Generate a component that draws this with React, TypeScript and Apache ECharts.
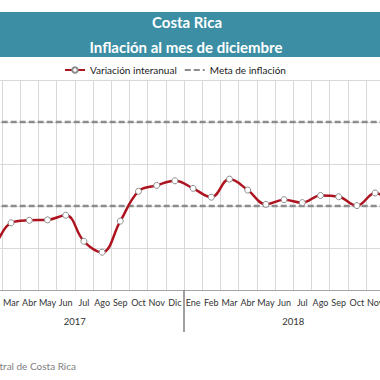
import React, { useEffect, useRef } from "react";
import * as echarts from "echarts";

const months = [
  "Ene", "Feb", "Mar", "Abr", "May", "Jun", "Jul", "Ago", "Sep", "Oct", "Nov", "Dic",
  "Ene", "Feb", "Mar", "Abr", "May", "Jun", "Jul", "Ago", "Sep", "Oct", "Nov", "Dic",
];
const years = ["2017", "2018"];
const variacionInteranual = [
  0.85, 1.05, 1.6, 1.66, 1.67, 1.78, 1.16, 0.9, 1.64, 2.35, 2.49, 2.6,
  2.42, 2.21, 2.64, 2.38, 2.04, 2.15, 2.08, 2.25, 2.22, 2.01, 2.31, 2.03,
];
const metaSuperior = [4, 4, 4, 4, 4, 4, 4, 4, 4, 4, 4, 4, 4, 4, 4, 4, 4, 4, 4, 4, 4, 4, 4, 4];
const metaInferior = [2, 2, 2, 2, 2, 2, 2, 2, 2, 2, 2, 2, 2, 2, 2, 2, 2, 2, 2, 2, 2, 2, 2, 2];

const FONT = "Lato, 'Open Sans', sans-serif";
const SHIFT = 100;

export default function App() {
  const ref = useRef<HTMLDivElement>(null);
  useEffect(() => {
    if (!ref.current) return;
    const chart = echarts.init(ref.current, undefined, { renderer: "svg" });
    chart.setOption({
      animation: false,
      backgroundColor: "#ffffff",
      textStyle: { fontFamily: FONT },
      graphic: [
        {
          type: "rect",
          shape: { x: 0, y: 12, width: 540, height: 45 },
          style: { fill: "#3B8EA4" },
        },
        {
          type: "text",
          x: 187 + SHIFT,
          y: 22,
          style: {
            text: "Costa Rica",
            fill: "#ffffff",
            font: `bold 15px ${FONT}`,
            textAlign: "center",
            textVerticalAlign: "middle",
          },
        },
        {
          type: "text",
          x: 186 + SHIFT,
          y: 46.5,
          style: {
            text: "Inflación al mes de diciembre",
            fill: "#ffffff",
            font: `bold 15px ${FONT}`,
            textAlign: "center",
            textVerticalAlign: "middle",
          },
        },
        {
          type: "text",
          x: 76 + SHIFT,
          y: 365.5,
          style: {
            text: "Fuente: Banco Central de Costa Rica",
            fill: "#808080",
            font: `10px ${FONT}`,
            textAlign: "right",
            textVerticalAlign: "middle",
          },
        },
      ],
      legend: {
        data: [
          { name: "Variación interanual" },
          { name: "Meta de inflación", itemStyle: { opacity: 0 } },
        ],
        left: 64 + SHIFT,
        top: 65,
        padding: 0,
        itemWidth: 20,
        itemHeight: 7,
        itemGap: 7,
        textStyle: { fontSize: 10, color: "#1a1a1a", fontFamily: FONT },
      },
      grid: { left: 65.6, right: 37.6, top: 80, bottom: 90 },
      xAxis: [
        {
          type: "category",
          data: months,
          boundaryGap: true,
          axisLine: { show: true, lineStyle: { color: "#A6A6A6", width: 1 } },
          axisTick: { show: false },
          axisLabel: {
            interval: (index: number) => index >= 2 && index <= 22,
            fontSize: 9,
            color: "#333333",
            margin: 8,
            fontFamily: FONT,
          },
          splitLine: { show: true, interval: 0, lineStyle: { color: "#D9D9D9", width: 1 } },
        },
        {
          type: "category",
          data: years,
          position: "bottom",
          boundaryGap: true,
          axisLine: { show: false },
          axisTick: { show: true, length: 42, lineStyle: { color: "#808080", width: 1.5 } },
          axisLabel: { interval: 0, fontSize: 9.5, color: "#333333", margin: 26, fontFamily: FONT },
          splitLine: { show: false },
        },
      ],
      yAxis: {
        type: "value",
        min: 0,
        max: 5,
        interval: 1,
        axisLine: { show: false },
        axisTick: { show: false },
        axisLabel: { show: false },
        splitLine: { show: true, lineStyle: { color: "#D9D9D9", width: 1 } },
      },
      series: [
        {
          name: "Meta de inflación",
          type: "line",
          data: metaSuperior,
          symbol: "none",
          z: 2,
          color: "#8C8C8C",
          lineStyle: { color: "#8C8C8C", width: 2.5, type: [6, 3] },
        },
        {
          name: "Meta de inflación",
          type: "line",
          data: metaInferior,
          symbol: "none",
          z: 2,
          color: "#8C8C8C",
          lineStyle: { color: "#8C8C8C", width: 2.5, type: [6, 3] },
        },
        {
          name: "Variación interanual",
          type: "line",
          data: variacionInteranual,
          smooth: 0.4,
          symbol: "circle",
          symbolSize: 6,
          z: 3,
          color: "#AE1420",
          lineStyle: { color: "#AE1420", width: 2.5 },
          itemStyle: { color: "#ffffff", borderColor: "#8C8C8C", borderWidth: 1 },
        },
      ],
    });
    return () => chart.dispose();
  }, []);
  return (
    <div
      style={{
        position: "absolute",
        left: 0,
        top: 0,
        width: 380,
        height: 380,
        overflow: "hidden",
        background: "#ffffff",
      }}
    >
      <div
        ref={ref}
        style={{ position: "absolute", left: -SHIFT, top: 0, width: 540, height: 380 }}
      />
    </div>
  );
}
